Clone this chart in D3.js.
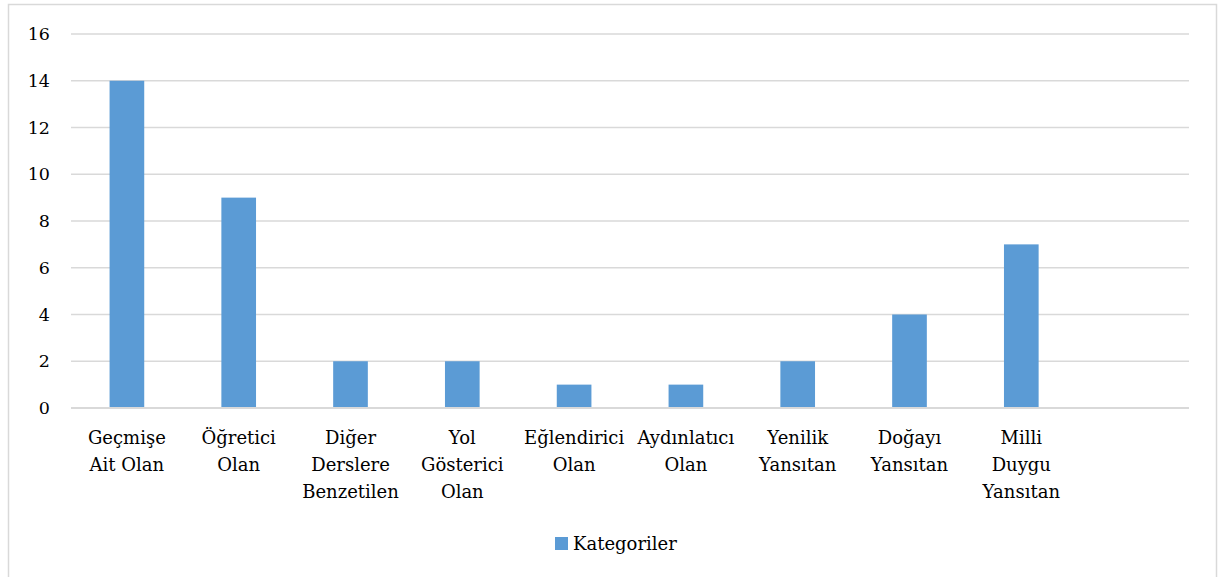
<!DOCTYPE html>
<html>
<head>
<meta charset="utf-8">
<script src="https://cdn.jsdelivr.net/npm/d3@7"></script>
<style>
  body { margin: 0; background: #fff; }
</style>
</head>
<body>
<div id="chart"></div>
<script>
// categories (line breaks as in the original), last slot is empty
var categories = [
    'Geçmişe\nAit Olan',
    'Öğretici\nOlan',
    'Diğer\nDerslere\nBenzetilen',
    'Yol\nGösterici\nOlan',
    'Eğlendirici\nOlan',
    'Aydınlatıcı\nOlan',
    'Yenilik\nYansıtan',
    'Doğayı\nYansıtan',
    'Milli\nDuygu\nYansıtan',
    ''
];
var values = [14, 9, 2, 2, 1, 1, 2, 4, 7, null];
var yTicks = [0, 2, 4, 6, 8, 10, 12, 14, 16];
var seriesName = 'Kategoriler';

var width = 1219, height = 577;
var margin = { left: 71, right: 30, top: 34, bottom: 169 };
var barColor = '#5b9bd5';
var gridColor = '#d9d9d9';
var fontFam = "'DejaVu Serif', serif";

var svg = d3.select('#chart')
    .append('svg')
    .attr('width', width)
    .attr('height', height)
    .style('font-family', fontFam);

// outer frame
svg.append('rect')
    .attr('x', 8.5).attr('y', 4.5)
    .attr('width', 1208).attr('height', 580)
    .attr('fill', '#fff')
    .attr('stroke', gridColor)
    .attr('stroke-width', 1.5);

var x = d3.scaleBand()
    .domain(d3.range(categories.length))
    .range([margin.left, width - margin.right])
    .padding(0);

var y = d3.scaleLinear()
    .domain([0, 16])
    .range([height - margin.bottom, margin.top]);

// gridlines
svg.selectAll('.grid')
    .data(yTicks)
    .enter().append('line')
    .attr('class', 'grid')
    .attr('x1', margin.left)
    .attr('x2', width - margin.right)
    .attr('y1', function (d) { return y(d); })
    .attr('y2', function (d) { return y(d); })
    .attr('stroke', gridColor)
    .attr('stroke-width', 1.5);

// y labels
svg.selectAll('.ylab')
    .data(yTicks)
    .enter().append('text')
    .attr('class', 'ylab')
    .attr('x', 50)
    .attr('y', function (d) { return y(d); })
    .attr('dy', '0.35em')
    .attr('text-anchor', 'end')
    .style('font-size', '17.5px')
    .text(function (d) { return d; });

// bars
var barW = x.bandwidth() * 0.31;
svg.selectAll('.bar')
    .data(values.map(function (v, i) { return { i: i, v: v }; }).filter(function (d) { return d.v != null; }))
    .enter().append('rect')
    .attr('class', 'bar')
    .attr('x', function (d) { return x(d.i) + x.bandwidth() / 2 - barW / 2; })
    .attr('width', barW)
    .attr('y', function (d) { return y(d.v); })
    .attr('height', function (d) { return y(0) - y(d.v); })
    .attr('fill', barColor);

// baseline on top
svg.append('line')
    .attr('x1', margin.left).attr('x2', width - margin.right)
    .attr('y1', y(0)).attr('y2', y(0))
    .attr('stroke', gridColor).attr('stroke-width', 2);

// category labels
var catG = svg.selectAll('.cat')
    .data(categories)
    .enter().append('text')
    .attr('class', 'cat')
    .attr('text-anchor', 'middle')
    .style('font-size', '18px');

catG.each(function (d, i) {
    var t = d3.select(this);
    d.split('\n').forEach(function (line, k) {
        t.append('tspan')
            .attr('x', x(i) + x.bandwidth() / 2)
            .attr('y', y(0) + 36 + k * 27)
            .text(line);
    });
});

// legend
var lg = svg.append('g').attr('transform', 'translate(555,537)');
lg.append('rect').attr('width', 13).attr('height', 13).attr('fill', barColor);
lg.append('text')
    .attr('x', 18).attr('y', 6.5).attr('dy', '0.35em')
    .style('font-size', '18px')
    .text(seriesName);
</script>
</body>
</html>
